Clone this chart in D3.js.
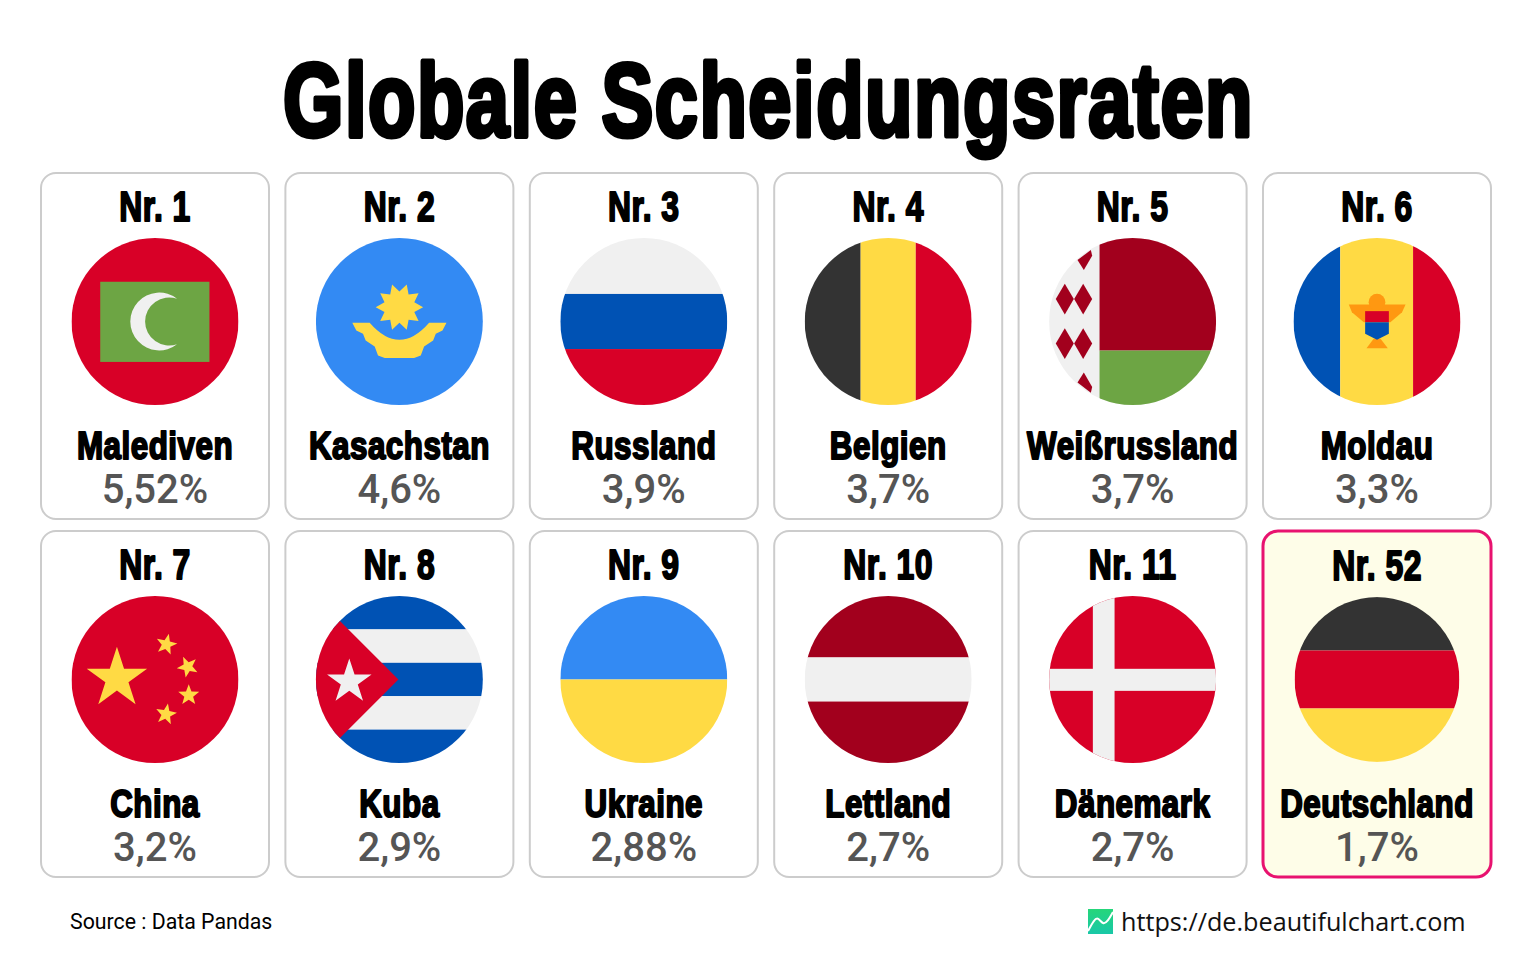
<!DOCTYPE html>
<html>
<head>
<meta charset="utf-8">
<script src="https://cdn.jsdelivr.net/npm/d3@7"></script>
<style>
  html, body { margin: 0; padding: 0; background: #fff; }
  .heavy { font-family: "Liberation Sans", sans-serif; font-weight: 700; fill: #000; stroke: #000; stroke-linejoin: round; text-anchor: middle; }
  .rate { font-family: Roboto, sans-serif; font-weight: 500; font-size: 40px; fill: #555; text-anchor: middle; }
</style>
</head>
<body>
<svg id="chart" width="1536" height="960"></svg>
<script>
// data
var ranks = [1, 2, 3, 4, 5, 6, 7, 8, 9, 10, 11, 52];
var countries = ['Malediven', 'Kasachstan', 'Russland', 'Belgien', 'Weißrussland', 'Moldau',
                 'China', 'Kuba', 'Ukraine', 'Lettland', 'Dänemark', 'Deutschland'];
var rates = [5.52, 4.6, 3.9, 3.7, 3.7, 3.3, 3.2, 2.9, 2.88, 2.7, 2.7, 1.7];
var flags = ['mv', 'kz', 'ru', 'be', 'by', 'md', 'cn', 'cu', 'ua', 'lv', 'dk', 'de'];

var RED = '#D80027', BLUE = '#0052B4', SKY = '#338AF3', YELLOW = '#FFDA44',
    WHITE = '#F0F0F0', GREEN = '#6DA544', DARK = '#333333', MAROON = '#A2001D', ORANGE = '#FF9811';

var svg = d3.select('#chart');

var col = d3.scaleBand().domain(d3.range(6)).range([41, 1491]).paddingInner(0.0671);
var row = d3.scaleBand().domain(d3.range(2)).range([173, 877]).paddingInner(0.0335);

// no condensed face is installed, so the bold one is squeezed and thickened with a stroke
function stretched(parent, txt, x, y, size, sx, sw, spacing) {
    return parent.append('text')
        .attr('class', 'heavy')
        .attr('transform', 'translate(' + x + ',' + y + ') scale(' + sx + ',1)')
        .style('font-size', size + 'px')
        .style('stroke-width', sw)
        .style('letter-spacing', spacing + 'px')
        .text(txt);
}

// flag helpers, everything is in unit coordinates of the circle
function rect(g, u, x0, y0, x1, y1, fill) {
    g.append('rect').attr('x', u(x0)).attr('y', u(y0))
        .attr('width', u(x1) - u(x0)).attr('height', u(y1) - u(y0)).attr('fill', fill);
}
function poly(g, u, pts, fill) {
    var line = d3.line().x(function (d) { return u(d[0]); }).y(function (d) { return u(d[1]); })
        .curve(d3.curveLinearClosed);
    g.append('path').attr('d', line(pts)).attr('fill', fill);
}
function star(g, u, cx, cy, r, rot, fill, points, inner) {
    var n = points || 5, ratio = inner || 0.382;
    var line = d3.lineRadial()
        .angle(function (d) { return d * Math.PI / n + rot * Math.PI / 180; })
        .radius(function (d) { return (d % 2 ? ratio : 1) * (u(r) - u(0)); })
        .curve(d3.curveLinearClosed);
    g.append('path').attr('d', line(d3.range(n * 2)))
        .attr('transform', 'translate(' + u(cx) + ',' + u(cy) + ')').attr('fill', fill);
}
function hstripes(g, u, stops, colors) {
    colors.forEach(function (c, i) { rect(g, u, -1, stops[i], 1, stops[i + 1], c); });
}
function vstripes(g, u, stops, colors) {
    colors.forEach(function (c, i) { rect(g, u, stops[i], -1, stops[i + 1], 1, c); });
}

var flagDraw = {
    mv: function (g, u) {
        rect(g, u, -1, -1, 1, 1, RED);
        rect(g, u, -0.656, -0.476, 0.652, 0.484, GREEN);
        var ro = u(0.346) - u(0), ri = u(0.288) - u(0);
        g.append('path').attr('fill', WHITE)
            .attr('d', 'M' + u(0.264) + ',' + u(-0.272) + 'A' + ro + ',' + ro + ' 0 1 0 ' + u(0.264) + ',' + u(0.272)
                + 'A' + ri + ',' + ri + ' 0 1 1 ' + u(0.264) + ',' + u(-0.272) + 'Z');
    },
    kz: function (g, u) {
        rect(g, u, -1, -1, 1, 1, SKY);
        star(g, u, 0, -0.172, 0.284, 18, YELLOW, 10, 0.66);
        var right = [[0.564, 0.016], [0.516, 0.108], [0.436, 0.148], [0.404, 0.228], [0.296, 0.3],
            [0.256, 0.408], [0.176, 0.436]];
        var left = right.map(function (p) { return [-p[0], p[1]]; }).reverse();
        var d = 'M' + u(-0.356) + ',' + u(0.016) + 'Q' + u(0) + ',' + u(0.424) + ' ' + u(0.356) + ',' + u(0.016);
        right.concat(left).forEach(function (p) { d += 'L' + u(p[0]) + ',' + u(p[1]); });
        g.append('path').attr('d', d + 'Z').attr('fill', YELLOW);
    },
    ru: function (g, u) { hstripes(g, u, [-1, -0.33, 0.33, 1], [WHITE, BLUE, RED]); },
    be: function (g, u) { vstripes(g, u, [-1, -0.33, 0.33, 1], [DARK, YELLOW, RED]); },
    by: function (g, u) {
        rect(g, u, -1, -1, 1, 1, WHITE);
        rect(g, u, -0.396, -1, 1, 0.348, MAROON);
        rect(g, u, -0.396, 0.348, 1, 1, GREEN);
        [[-0.812, -0.268], [-0.592, -0.268], [-0.812, 0.264], [-0.592, 0.264]].forEach(function (c) {
            poly(g, u, [[c[0] - 0.108, c[1]], [c[0], c[1] - 0.184], [c[0] + 0.108, c[1]], [c[0], c[1] + 0.184]], MAROON);
        });
        poly(g, u, [[-0.66, -0.736], [-0.5, -0.856], [-0.484, -0.788], [-0.584, -0.616]], MAROON);
        poly(g, u, [[-0.66, 0.732], [-0.5, 0.852], [-0.484, 0.784], [-0.584, 0.612]], MAROON);
    },
    md: function (g, u) {
        vstripes(g, u, [-1, -0.44, 0.432, 1], [BLUE, YELLOW, RED]);
        poly(g, u, [[-0.338, -0.204], [0.342, -0.204], [0.3, -0.112], [0.16, 0.01], [-0.158, 0.01], [-0.3, -0.112]], ORANGE);
        g.append('circle').attr('cx', u(0)).attr('cy', u(-0.232)).attr('r', u(0.1) - u(0)).attr('fill', ORANGE);
        poly(g, u, [[-0.126, 0.32], [0.13, 0.32], [0.042, 0.208], [-0.04, 0.208]], ORANGE);
        rect(g, u, -0.142, -0.124, 0.142, 0.008, RED);
        poly(g, u, [[-0.142, 0.008], [0.142, 0.008], [0.142, 0.148], [0, 0.22], [-0.142, 0.148]], BLUE);
    },
    cn: function (g, u) {
        rect(g, u, -1, -1, 1, 1, RED);
        star(g, u, -0.456, -0.012, 0.38, 0, YELLOW);
        star(g, u, 0.136, -0.42, 0.132, 13, YELLOW, 5, 0.42);
        star(g, u, 0.392, -0.152, 0.132, -25, YELLOW, 5, 0.42);
        star(g, u, 0.404, 0.188, 0.132, 0, YELLOW, 5, 0.42);
        star(g, u, 0.132, 0.416, 0.132, 10, YELLOW, 5, 0.42);
    },
    cu: function (g, u) {
        hstripes(g, u, [-1, -0.6, -0.2, 0.2, 0.6, 1], [BLUE, WHITE, BLUE, WHITE, BLUE]);
        poly(g, u, [[-0.012, 0], [-1.2, -1.188], [-1.2, 1.188]], RED);
        star(g, u, -0.6, 0.028, 0.28, 0, WHITE);
    },
    ua: function (g, u) { hstripes(g, u, [-1, 0, 1], [SKY, YELLOW]); },
    lv: function (g, u) { hstripes(g, u, [-1, -0.264, 0.264, 1], [MAROON, WHITE, MAROON]); },
    dk: function (g, u) {
        rect(g, u, -1, -1, 1, 1, RED);
        rect(g, u, -0.476, -1, -0.216, 1, WHITE);
        rect(g, u, -1, -0.128, 1, 0.136, WHITE);
    },
    de: function (g, u) { hstripes(g, u, [-1, -0.352, 0.352, 1], [DARK, RED, YELLOW]); }
};

// title
stretched(svg, 'Globale Scheidungsraten', 768.5, 135.5, 103, 0.754, 5, 2);

// cards
var defs = svg.append('defs');
countries.forEach(function (name, i) {
    var x = col(i % 6), y = row(Math.floor(i / 6)), w = col.bandwidth(), h = row.bandwidth();
    var cx = x + w / 2;
    var hl = name === 'Deutschland';
    var card = svg.append('g').attr('class', 'card');

    card.append('rect')
        .attr('x', x).attr('y', y).attr('width', w).attr('height', h)
        .attr('rx', 15).attr('ry', 15)
        .attr('fill', hl ? '#FEFDE8' : '#fff')
        .attr('stroke', hl ? '#E8126F' : '#CCCCCC')
        .attr('stroke-width', hl ? 3 : 2);

    stretched(card, 'Nr. ' + ranks[i], cx, y + (hl ? 49 : 48), 42, 0.76, 2, 0.6);

    var R = hl ? 82.4 : 83.5;
    var u = d3.scaleLinear().domain([-1, 1]).range([-R, R]);
    defs.append('clipPath').attr('id', 'clip-' + flags[i])
        .append('circle').attr('r', R);
    var flag = card.append('g')
        .attr('transform', 'translate(' + cx + ',' + (y + 148.5) + ')')
        .attr('clip-path', 'url(#clip-' + flags[i] + ')');
    flagDraw[flags[i]](flag, u);

    stretched(card, name, cx, y + 286, 38.5, 0.815, 2, 0.6);

    card.append('text').attr('class', 'rate')
        .attr('x', cx).attr('y', y + 330)
        .text(String(rates[i]).replace('.', ',') + '%');
});

// footer
svg.append('text').attr('x', 70).attr('y', 929)
    .style('font-family', 'Roboto, sans-serif').style('font-size', '21.3px').attr('fill', '#000')
    .text('Source : Data Pandas');

var grad = defs.append('linearGradient').attr('id', 'logo-grad')
    .attr('x1', 0).attr('y1', 0).attr('x2', 0).attr('y2', 1);
grad.append('stop').attr('offset', 0).attr('stop-color', '#25D67A');
grad.append('stop').attr('offset', 1).attr('stop-color', '#19C8A8');
svg.append('rect').attr('x', 1088).attr('y', 909).attr('width', 25).attr('height', 25).attr('fill', 'url(#logo-grad)');
svg.append('path')
    .attr('d', d3.line().curve(d3.curveBasis)([[1088, 931], [1094, 920], [1098, 917], [1103, 925], [1108, 921], [1113, 912]]))
    .attr('fill', 'none').attr('stroke', '#fff').attr('stroke-width', 2);

svg.append('text').attr('x', 1121).attr('y', 931)
    .style('font-family', '"Open Sans", sans-serif').style('font-size', '25.2px').attr('fill', '#111')
    .text('https://de.beautifulchart.com');
</script>
</body>
</html>
